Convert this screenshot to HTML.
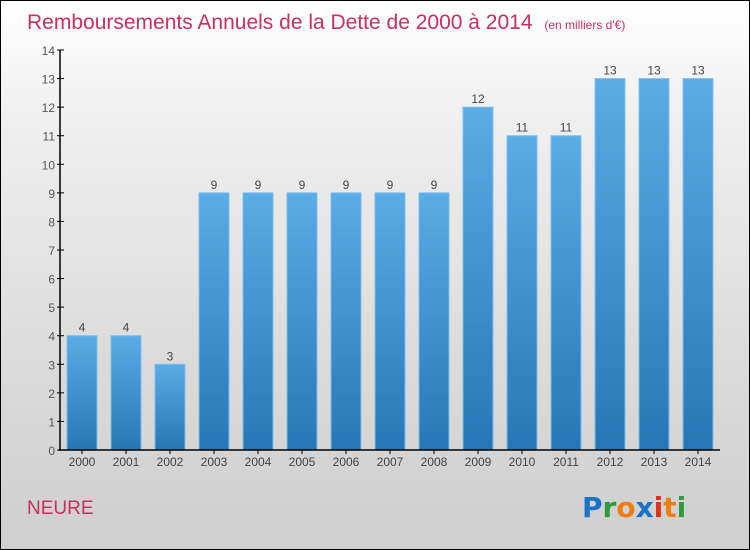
<!DOCTYPE html>
<html><head><meta charset="utf-8"><style>
body{margin:0;width:750px;height:550px;overflow:hidden}
#c{position:absolute;left:0;top:0;width:748px;height:548px;border:1px solid #000;background:linear-gradient(#fff,#f0f0f0 20%,#d9d9d9 70%,#cfcfcf)}
</style></head><body>
<div id="c"></div>
<svg id="s" width="750" height="550" style="position:absolute;left:0;top:0" font-family="Liberation Sans, sans-serif">
<defs><linearGradient id="g" x1="0" y1="0" x2="0" y2="1"><stop offset="0" stop-color="#5aace6"/><stop offset="1" stop-color="#2677b5"/></linearGradient></defs>
<text x="27" y="29" font-size="21" fill="#c8305f">Remboursements Annuels de la Dette de 2000 à 2014 <tspan font-size="12" dx="6">(en milliers d'€)</tspan></text>
<text x="27" y="514" font-size="19" fill="#c8305f">NEURE</text>
<g font-size="28" font-weight="bold" font-family="DejaVu Sans, sans-serif">
<text x="582" y="517"><tspan fill="#1a73c8">P</tspan><tspan fill="#2e9a3a">r</tspan><tspan fill="#f07d10">o</tspan><tspan fill="#1a73c8">x</tspan><tspan fill="#e03020">i</tspan><tspan fill="#f07d10">t</tspan><tspan fill="#2e9a3a">i</tspan></text></g>
<g id="plot"></g>
</svg>
<script>
const years=["2000","2001","2002","2003","2004","2005","2006","2007","2008","2009","2010","2011","2012","2013","2014"];
const values=[4,4,3,9,9,9,9,9,9,12,11,11,13,13,13];
const yTicks=[0,1,2,3,4,5,6,7,8,9,10,11,12,13,14];
const NS="http://www.w3.org/2000/svg";
const p=document.getElementById('plot');
const y=v=>450-v*(400/14);
const x=i=>82+i*44;
function mk(t,a){const e=document.createElementNS(NS,t);for(const k in a)e.setAttribute(k,a[k]);p.appendChild(e);return e;}
yTicks.forEach(v=>{
 const l=mk('line',{x1:57,x2:64,y1:y(v),y2:y(v),stroke:'#000'});
 
 
 const t=mk('text',{x:55,y:y(v)+5,'text-anchor':'end','font-size':12,fill:'#555'});t.textContent=v;
 
 
});
values.forEach((v,i)=>{
 const r=mk('rect',{x:x(i)-15,y:y(v),width:30,height:450-y(v),fill:'url(#g)',stroke:'#7cc0ee','stroke-width':1});
 
 
 const t=mk('text',{x:x(i),y:y(v)-4,'text-anchor':'middle','font-size':12,fill:'#444'});t.textContent=v;
 
 
 const tk=mk('line',{x1:x(i),x2:x(i),y1:450,y2:454,stroke:'#000'});
 
 
 const xl=mk('text',{x:x(i),y:466,'text-anchor':'middle','font-size':12,fill:'#444'});xl.textContent=years[i];
 
 
});
const ya=mk('line',{x1:60,x2:60,y1:y(14),y2:451,stroke:'#000','stroke-width':1.5});


const xa=mk('line',{x1:59,x2:720,y1:450,y2:450,stroke:'#000','stroke-width':1.5});


</script>
</body></html>
